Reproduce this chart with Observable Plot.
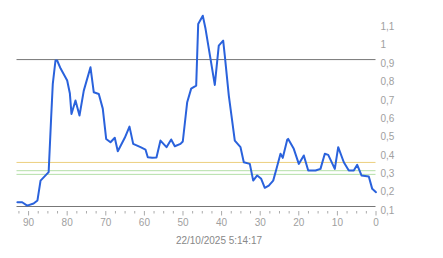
<!DOCTYPE html>
<html>
<head>
<meta charset="utf-8">
<script src="https://cdn.jsdelivr.net/npm/d3@7"></script>
<script src="https://cdn.jsdelivr.net/npm/@observablehq/plot@0.6"></script>
<style>
  html, body { margin: 0; padding: 0; background: #fff; }
  #chart { width: 443px; font-family: "Liberation Sans", Arial, sans-serif; }
  #caption { font: 10px "Liberation Sans", Arial, sans-serif; color: #888; text-align: center; padding-right: 5px; margin-top: 4px; line-height: 14px; }
</style>
</head>
<body>
<div id="chart"></div>
<div id="caption"></div>
<script>
// Data: minutes ago (x) and value (y)
const minutesAgo = [92.9, 91.66, 90.36, 88.7, 87.7, 86.9, 84.8, 84.15, 83.73, 83.03, 82.6, 81.7, 80.0, 79.3,
  78.89, 77.85, 76.81, 75.7, 73.96, 73.11, 71.81, 70.78, 69.9, 68.78, 67.67, 66.89, 65.08,
  63.86, 62.9, 61.0, 59.72, 59.12, 57.98, 56.87, 55.83, 54.27, 53.06, 52.12, 50.65,
  50.05, 48.91, 47.88, 46.58, 46.06, 44.87, 44.17, 42.88, 41.76, 40.73, 39.59, 39.17, 38.13, 37.44, 36.58,
  35.1, 34.25, 32.69, 31.81, 30.78, 29.74, 28.81, 27.77, 26.63, 25.78, 24.74, 24.15, 23.0,
  22.75, 21.3, 20.0, 18.7, 17.56, 15.67, 14.38, 13.26, 12.38, 10.67, 9.79, 8.34,
  7.05, 5.75, 4.87, 3.76, 1.87, 0.98, 0];
const values = [0.123, 0.123, 0.105, 0.116, 0.133, 0.241, 0.287, 0.586, 0.768, 0.895, 0.895, 0.851, 0.786, 0.715,
  0.604, 0.677, 0.595, 0.731, 0.858, 0.722, 0.713, 0.633, 0.468, 0.450, 0.474, 0.401, 0.474,
  0.535, 0.441, 0.423, 0.410, 0.368, 0.365, 0.367, 0.459, 0.423, 0.465, 0.428, 0.441,
  0.454, 0.668, 0.742, 0.758, 1.094, 1.139, 1.069, 0.905, 0.762, 0.976, 1.003, 0.922, 0.704, 0.595, 0.459,
  0.423, 0.341, 0.332, 0.241, 0.269, 0.251, 0.202, 0.214, 0.241, 0.305, 0.387, 0.365, 0.463,
  0.468, 0.414, 0.332, 0.378, 0.296, 0.296, 0.305, 0.387, 0.381, 0.305, 0.423, 0.341,
  0.296, 0.296, 0.327, 0.269, 0.263, 0.196, 0.178];

// Reference lines
const refValues = [0.1, 0.9, 0.34, 0.295, 0.275];
const refColors = ["#777777", "#777777", "#eccf7e", "#b4dfa8", "#b4dfa8"];

// Tick labels
const xMajorTicks = [0, 10, 20, 30, 40, 50, 60, 70, 80, 90];
const xMinorTicks = [2.5, 5, 7.5, 12.5, 15, 17.5, 22.5, 25, 27.5, 32.5, 35, 37.5, 42.5, 45, 47.5,
  52.5, 55, 57.5, 62.5, 65, 67.5, 72.5, 75, 77.5, 82.5, 85, 87.5, 92.5];
const yTicks = [0.1, 0.2, 0.3, 0.4, 0.5, 0.6, 0.7, 0.8, 0.9, 1, 1.1];
const captionText = "22/10/2025 5:14:17";

const series = minutesAgo.map((m, i) => ({m, v: values[i]}));
const refs = refValues.map((v, i) => ({v, c: refColors[i]}));

const chart = Plot.plot({
  width: 443,
  height: 230,
  marginLeft: 16.5,
  marginRight: 67.5,
  marginTop: 4,
  marginBottom: 24,
  style: {fontFamily: "'Liberation Sans', Arial, sans-serif", fontSize: "10px", color: "#999", background: "#fff"},
  x: {domain: [93, 0]},
  y: {domain: [0.1, 1.2]},
  marks: [
    Plot.axisY(yTicks, {anchor: "right", tickSize: 0, tickPadding: 4.5, dy: 4, label: null,
      tickFormat: d => String(d).replace(".", ","), fill: "#a0a0a0"}),
    Plot.axisX(xMajorTicks, {tickSize: 0, tickPadding: 12, label: null, fill: "#a0a0a0"}),
    Plot.axisX(xMajorTicks, {tickSize: 4.5, dy: 5, text: null, label: null, stroke: "#aaa"}),
    Plot.axisX(xMinorTicks, {tickSize: 2.5, dy: 5, text: null, label: null, stroke: "#aaa"}),
    Plot.ruleY(refs, {y: "v", stroke: "c", strokeWidth: 1}),
    Plot.line(series, {x: "m", y: "v", stroke: "#2a62dc", strokeWidth: 2, strokeLinejoin: "round"})
  ]
});
document.getElementById("chart").append(chart);
document.getElementById("caption").textContent = captionText;
</script>
</body>
</html>
